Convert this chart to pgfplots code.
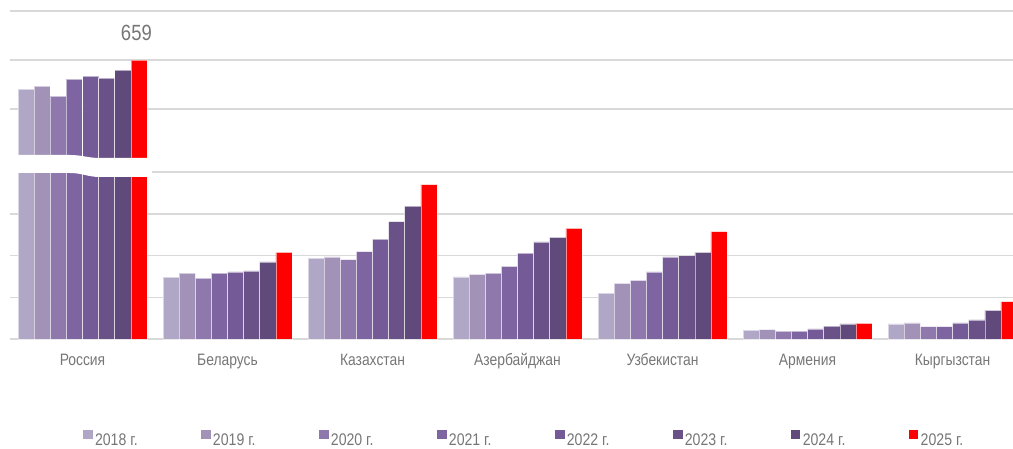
\documentclass[border=0pt]{standalone}
\usepackage{pgfplots}
\pgfplotsset{compat=1.18}
\usepackage{pgfplotstable}
\usepackage{fontspec}
\setmainfont{Liberation Sans}[FakeStretch=0.84]
\definecolor{c18}{HTML}{B0A6C6}
\definecolor{c19}{HTML}{A292B8}
\definecolor{c20}{HTML}{8E78AC}
\definecolor{c21}{HTML}{7E64A0}
\definecolor{c22}{HTML}{745A96}
\definecolor{c23}{HTML}{6A5289}
\definecolor{c24}{HTML}{5F4A7B}
\definecolor{c25}{HTML}{FF0000}
\definecolor{gridc}{HTML}{D9D9D9}
\definecolor{txtc}{HTML}{767676}

\pgfplotstableread{
x a b c d e f g h
0 647.2 648.4 644.3 651.2 652.5 651.7 654.9 659
1 29.6 31.6 29.2 31.5 32.1 32.6 37.0 41.5
2 38.8 39.3 38.0 41.8 47.8 56.2 63.6 73.9
3 29.8 31.0 31.5 34.8 41.1 46.5 48.7 53.0
4 22.0 26.7 28.1 32.1 39.4 39.9 41.5 51.4
5 4.2 4.5 3.8 3.8 4.8 6.2 7.2 7.5
6 7.3 7.7 5.9 5.9 7.7 9.2 13.7 17.9
}\datalow

\pgfplotstableread{
x a b c d e f g h
0 647.2 648.4 644.3 651.2 652.5 651.7 654.9 659
}\datatop

\pgfplotsset{
  common/.style={
    scale only axis, width=1003pt,
    xmin=-0.5, xmax=6.4172,
    axis line style={draw=none},
    major tick length=0pt,
    yticklabels={},
    ymajorgrids,
    grid style={draw=gridc, line width=1.5pt},
    ybar, bar width=0.1111,
    every axis plot/.append style={draw=white, draw opacity=0.55, line width=0.5pt},
  },
}

\begin{document}
\begin{tikzpicture}
\begin{axis}[common,
  at={(10pt,109pt)}, anchor=south west,
  height=169.09pt,
  ymin=0, ymax=81, ytick={0,20,40,60,80},
  xtick={0,...,6},
  xticklabels={Россия,Беларусь,Казахстан,Азербайджан,Узбекистан,Армения,Кыргызстан},
  xticklabel style={font=\fontsize{16.5}{18}\selectfont, text=txtc, anchor=base, yshift=-26pt},
  legend columns=8,
  legend entries={2018 г.,2019 г.,2020 г.,2021 г.,2022 г.,2023 г.,2024 г.,2025 г.},
  legend image code/.code={\fill[#1,draw=none] (0pt,1.3pt) rectangle (9.4pt,10.7pt);},
  legend style={at={(0.0731,-0.5878)}, anchor=west, draw=none, fill=none,
    inner sep=0pt, outer sep=0pt, font=\fontsize{16.8}{18}\selectfont, text=txtc,
    nodes={inner sep=0pt},
    /tikz/every odd column/.append style={column sep=2.3pt},
    /tikz/every even column/.append style={column sep=63.6pt}},
  legend cell align=left,
]
\addplot[fill=c18, bar shift=-0.3889] table[x=x,y=a]{\datalow};
\addplot[fill=c19, bar shift=-0.2778] table[x=x,y=b]{\datalow};
\addplot[fill=c20, bar shift=-0.1667] table[x=x,y=c]{\datalow};
\addplot[fill=c21, bar shift=-0.0556] table[x=x,y=d]{\datalow};
\addplot[fill=c22, bar shift=0.0556] table[x=x,y=e]{\datalow};
\addplot[fill=c23, bar shift=0.1667] table[x=x,y=f]{\datalow};
\addplot[fill=c24, bar shift=0.2778] table[x=x,y=g]{\datalow};
\addplot[fill=c25, bar shift=0.3889] table[x=x,y=h]{\datalow};
\end{axis}

\begin{axis}[common,
  at={(10pt,287.55pt)}, anchor=south west,
  height=151.9pt,
  ymin=618, ymax=680, ytick={639,659,679},
  xtick=\empty,
]
\addplot[fill=c18, bar shift=-0.3889] table[x=x,y=a]{\datatop};
\addplot[fill=c19, bar shift=-0.2778] table[x=x,y=b]{\datatop};
\addplot[fill=c20, bar shift=-0.1667] table[x=x,y=c]{\datatop};
\addplot[fill=c21, bar shift=-0.0556] table[x=x,y=d]{\datatop};
\addplot[fill=c22, bar shift=0.0556] table[x=x,y=e]{\datatop};
\addplot[fill=c23, bar shift=0.1667] table[x=x,y=f]{\datatop};
\addplot[fill=c24, bar shift=0.2778] table[x=x,y=g]{\datatop};
\addplot[fill=c25, bar shift=0.3889] table[x=x,y=h]{\datatop};
\node[anchor=base, text=txtc, font=\fontsize{22}{24}\selectfont, xshift=-2.5pt, yshift=20pt] at (axis cs:0.3889,659) {659};
\end{axis}

% axis break band
\fill[white] (8pt,293pt) -- (70pt,293pt) .. controls (82pt,293pt) and (88pt,290pt) .. (100pt,290pt)
  -- (152pt,290pt) -- (152pt,271pt) -- (100pt,271pt) .. controls (88pt,271pt) and (82pt,275pt) .. (70pt,275pt)
  -- (8pt,275pt) -- cycle;

\pgfresetboundingbox
\path[use as bounding box] (0pt,0pt) rectangle (1013pt,448pt);
\end{tikzpicture}
\end{document}
